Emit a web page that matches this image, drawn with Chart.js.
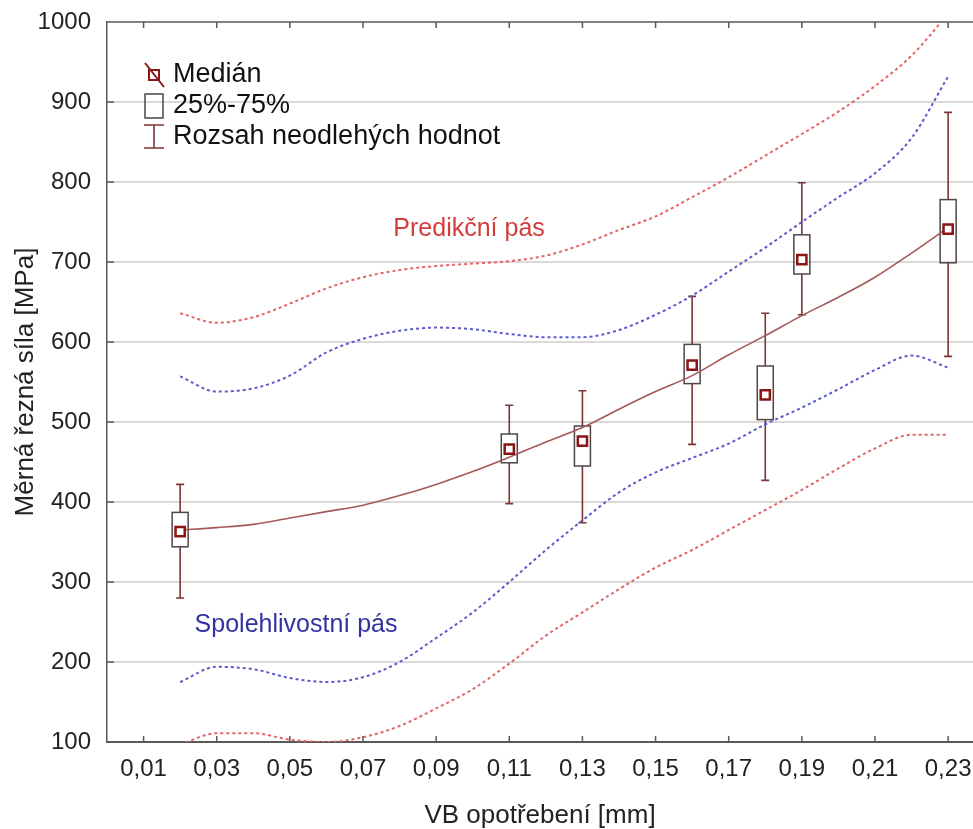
<!DOCTYPE html>
<html>
<head>
<meta charset="utf-8">
<script src="https://cdn.jsdelivr.net/npm/chart.js@4"></script>
<style>
  body { margin: 0; background: #fff; }
  canvas { display: block; }
</style>
</head>
<body>
<canvas id="chart" width="973" height="829"></canvas>
<script>
// x tick labels shown on the axis
const xTicks = [0.01, 0.03, 0.05, 0.07, 0.09, 0.11, 0.13, 0.15, 0.17, 0.19, 0.21, 0.23];

// box plots (VB wear -> specific cutting force)
const boxX        = [0.02, 0.11, 0.13, 0.16, 0.18, 0.19, 0.23];
const whiskerLow  = [280, 398, 374, 472, 427, 634, 582];
const q1          = [344, 449, 445, 548, 503, 685, 699];
const medians     = [363, 466, 476, 571, 534, 703, 741];
const q3          = [387, 485, 495, 597, 570, 734, 778];
const whiskerHigh = [422, 521, 539, 657, 636, 799, 887];

// regression curve and the bands, read at these VB values
const curveX    = [0.02, 0.03, 0.04, 0.05, 0.06, 0.07, 0.08, 0.09, 0.10, 0.11, 0.12,
                   0.13, 0.14, 0.15, 0.16, 0.17, 0.18, 0.19, 0.20, 0.21, 0.22, 0.23];
const fitLine   = [365, 368, 372, 380, 388, 396, 408, 422, 438, 456, 475,
                   493, 516, 538, 558, 584, 608, 633, 656, 681, 711, 743];
const predUpper = [636, 624, 631, 648, 667, 681, 690, 695, 698, 701, 708,
                   722, 740, 757, 781, 806, 833, 860, 888, 920, 958, 1010];
const confUpper = [557, 538, 542, 558, 587, 604, 614, 618, 616, 610, 606,
                   606, 615, 634, 658, 688, 718, 750, 781, 811, 855, 932];
const confLower = [175, 194, 191, 180, 175, 181, 200, 230, 262, 300, 340,
                   377, 412, 437, 455, 473, 497, 518, 541, 565, 583, 568];
const predLower = [97, 111, 111, 103, 100, 106, 120, 142, 166, 198, 233,
                   262, 291, 318, 340, 365, 390, 415, 442, 467, 484, 484];

const legendItems = ['Medián', '25%-75%', 'Rozsah neodlehých hodnot'];
const bandLabels = [
  { text: 'Predikční pás', x: 0.099, y: 741, color: 'rgb(212,60,60)' },
  { text: 'Spolehlivostní pás', x: 0.0517, y: 246, color: 'rgb(50,50,160)' }
];

const FONT = "'Liberation Sans', Arial, sans-serif";
const WHISKER = '#7d3434';
const BOXLINE = '#4f4545';
const MEDIAN = '#8b1515';

function toPoints(xs, ys) {
  return xs.map((x, i) => ({ x: x, y: ys[i] }));
}

function band(label, ys, color) {
  return {
    type: 'line', label: label, data: toPoints(curveX, ys),
    borderColor: color, borderWidth: 2, borderDash: [3, 3],
    pointRadius: 0, fill: false, cubicInterpolationMode: 'monotone'
  };
}

const boxPlots = {
  id: 'boxPlots',
  beforeDatasetsDraw(chart) {
    const { ctx, scales: { x, y } } = chart;
    ctx.save();
    boxX.forEach((v, i) => {
      const px = x.getPixelForValue(v);
      const yLo = y.getPixelForValue(whiskerLow[i]);
      const yHi = y.getPixelForValue(whiskerHigh[i]);
      const yQ1 = y.getPixelForValue(q1[i]);
      const yQ3 = y.getPixelForValue(q3[i]);
      ctx.strokeStyle = WHISKER;
      ctx.lineWidth = 1.6;
      ctx.beginPath();
      ctx.moveTo(px, yHi); ctx.lineTo(px, yQ3);
      ctx.moveTo(px, yQ1); ctx.lineTo(px, yLo);
      ctx.moveTo(px - 4, yHi); ctx.lineTo(px + 4, yHi);
      ctx.moveTo(px - 4, yLo); ctx.lineTo(px + 4, yLo);
      ctx.stroke();
      ctx.strokeStyle = BOXLINE;
      ctx.lineWidth = 1.5;
      ctx.strokeRect(px - 8, yQ3, 16, yQ1 - yQ3);
    });
    ctx.restore();
  }
};

const frame = {
  id: 'frame',
  afterDraw(chart) {
    const { ctx, chartArea: a, scales: { x, y } } = chart;
    ctx.save();
    ctx.strokeStyle = '#5a5a5a';
    ctx.lineWidth = 1.5;
    ctx.beginPath();
    ctx.moveTo(a.left, a.top); ctx.lineTo(a.right, a.top);
    xTicks.forEach(v => {
      const px = x.getPixelForValue(v);
      ctx.moveTo(px, a.bottom); ctx.lineTo(px, a.bottom - 6);
      ctx.moveTo(px, a.top); ctx.lineTo(px, a.top + 6);
    });
    y.ticks.forEach(t => {
      const py = y.getPixelForValue(t.value);
      ctx.moveTo(a.left, py); ctx.lineTo(a.left + 7, py);
    });
    ctx.stroke();

    // band labels
    ctx.font = '25px ' + FONT;
    ctx.textAlign = 'center';
    ctx.textBaseline = 'middle';
    bandLabels.forEach(l => {
      ctx.fillStyle = l.color;
      ctx.fillText(l.text, x.getPixelForValue(l.x), y.getPixelForValue(l.y));
    });

    // legend
    const ix = a.left + 47, tx = a.left + 66;
    const rows = [a.top + 53, a.top + 84, a.top + 115];
    ctx.textAlign = 'left';
    ctx.fillStyle = '#111';
    ctx.font = '27px ' + FONT;
    legendItems.forEach((t, i) => ctx.fillText(t, tx, rows[i]));

    ctx.strokeStyle = MEDIAN;
    ctx.lineWidth = 2;
    ctx.strokeRect(ix - 5, rows[0] - 5, 10, 10);
    ctx.beginPath();
    ctx.moveTo(ix - 9, rows[0] - 12); ctx.lineTo(ix + 10, rows[0] + 12);
    ctx.stroke();

    ctx.strokeStyle = BOXLINE;
    ctx.lineWidth = 1.5;
    ctx.strokeRect(ix - 9, rows[1] - 12, 18, 24);

    ctx.strokeStyle = WHISKER;
    ctx.lineWidth = 1.6;
    ctx.beginPath();
    ctx.moveTo(ix, rows[2] - 12); ctx.lineTo(ix, rows[2] + 11);
    ctx.moveTo(ix - 10, rows[2] - 12); ctx.lineTo(ix + 10, rows[2] - 12);
    ctx.moveTo(ix - 10, rows[2] + 11); ctx.lineTo(ix + 10, rows[2] + 11);
    ctx.stroke();
    ctx.restore();
  }
};

const config = {
  data: {
    datasets: [
      {
        type: 'scatter', label: 'Medián', data: toPoints(boxX, medians),
        pointStyle: 'rect', pointRadius: 6.5, borderWidth: 2.5,
        borderColor: MEDIAN, backgroundColor: '#fff'
      },
      {
        type: 'line', label: 'fit', data: toPoints(curveX, fitLine),
        borderColor: 'rgb(165,88,88)', borderWidth: 1.6, pointRadius: 0,
        fill: false, cubicInterpolationMode: 'monotone'
      },
      band('confUpper', confUpper, 'rgb(90,90,205)'),
      band('confLower', confLower, 'rgb(90,90,205)'),
      band('predUpper', predUpper, 'rgb(226,100,100)'),
      band('predLower', predLower, 'rgb(226,100,100)')
    ]
  },
  options: {
    responsive: false,
    animation: false,
    layout: { autoPadding: false, padding: { top: 22, right: 0, left: 0, bottom: 0 } },
    plugins: { legend: { display: false }, tooltip: { enabled: false } },
    scales: {
      x: {
        type: 'linear', min: 0, max: 0.2368,
        afterBuildTicks: s => { s.ticks = xTicks.map(v => ({ value: v })); },
        afterFit: s => { s.height = 87; s.paddingLeft = 0; s.paddingRight = 0; },
        grid: { display: false, drawTicks: false },
        border: { display: true, color: '#5a5a5a', width: 2 },
        ticks: {
          autoSkip: false, maxRotation: 0, padding: 13, color: '#222',
          font: { family: FONT, size: 24 },
          callback: v => v.toFixed(2).replace('.', ',')
        },
        title: {
          display: true, text: 'VB opotřebení [mm]', color: '#222',
          font: { family: FONT, size: 26, lineHeight: 1 },
          padding: { top: 0, bottom: 0 }
        }
      },
      y: {
        min: 100, max: 1000,
        afterFit: s => { s.width = 107; s.paddingTop = 0; s.paddingBottom = 0; },
        grid: {
          drawTicks: false, lineWidth: 2,
          color: c => (c.tick && (c.tick.value === 100 || c.tick.value === 1000)) ? 'rgba(0,0,0,0)' : '#dadada'
        },
        border: { display: true, color: '#5a5a5a', width: 1.5 },
        ticks: {
          stepSize: 100, padding: 16, color: '#222',
          font: { family: FONT, size: 24 },
          callback: v => String(v)
        },
        title: {
          display: true, text: 'Měrná řezná síla [MPa]', color: '#222',
          font: { family: FONT, size: 26, lineHeight: 1 },
          padding: { top: 13, bottom: 0 }
        }
      }
    }
  },
  plugins: [boxPlots, frame]
};

window.addEventListener('DOMContentLoaded', () => {
  new Chart(document.getElementById('chart'), config);
});
</script>
</body>
</html>
